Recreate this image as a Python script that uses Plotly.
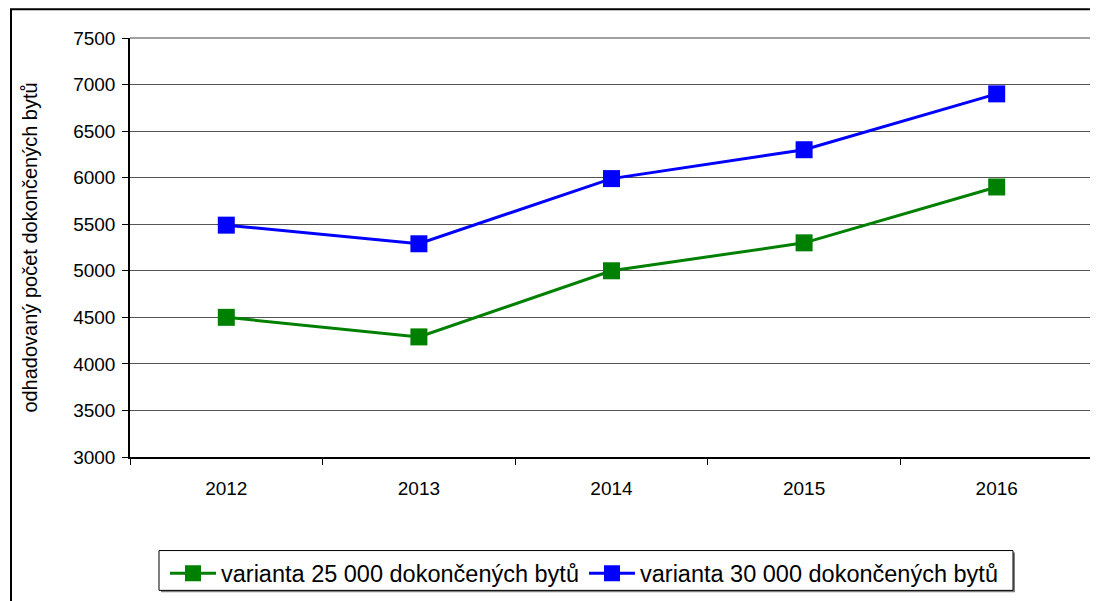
import plotly.graph_objects as go

years = ["2012", "2013", "2014", "2015", "2016"]
var25 = [4500, 4290, 5000, 5300, 5900]
var30 = [5490, 5290, 5990, 6300, 6900]
y_ticks = [3000, 3500, 4000, 4500, 5000, 5500, 6000, 6500, 7000, 7500]

name25 = "varianta 25 000 dokončených bytů"
name30 = "varianta 30 000 dokončených bytů"
y_title = "odhadovaný počet dokončených bytů"

FONT = "Liberation Sans, Arial, sans-serif"

fig = go.Figure()
fig.add_trace(go.Scatter(x=years, y=var25, name=name25, mode="lines+markers",
                         line=dict(color="#008000", width=3),
                         marker=dict(symbol="square", size=17, color="#008000")))
fig.add_trace(go.Scatter(x=years, y=var30, name=name30, mode="lines+markers",
                         line=dict(color="#0000FF", width=3),
                         marker=dict(symbol="square", size=17, color="#0000FF")))

# page offset of the figure (body margin)
OFF = 8
W, H = 1098 - OFF, 601 - OFF
PL, PR, PT, PB = 130, 1093, 38, 459  # plot area in page pixels
L = PL - OFF
T = PT - OFF
R = W - (PR - OFF)
B = H - (PB - OFF)
pw = PR - PL
ph = PB - PT

def px(x):
    return (x - PL) / pw

def py(y):
    return (PB - y) / ph

shapes = [
    # outer chart frame
    dict(type="rect", xref="paper", yref="paper", x0=px(11), x1=px(1120), y0=py(640), y1=py(9),
         line=dict(color="black", width=2), layer="below"),
    # plot area border top/right (gray)
    dict(type="line", xref="paper", yref="paper", x0=0, x1=1, y0=1, y1=1,
         line=dict(color="#808080", width=1.5)),
    dict(type="line", xref="paper", yref="paper", x0=1, x1=1, y0=0, y1=1,
         line=dict(color="#808080", width=1.5)),
    # legend shadow + box
    dict(type="rect", xref="paper", yref="paper", x0=px(161), x1=px(1015), y0=py(595), y1=py(555),
         line=dict(color="#808080", width=0), fillcolor="#808080", layer="below"),
    dict(type="rect", xref="paper", yref="paper", x0=px(159), x1=px(1013), y0=py(593), y1=py(553),
         line=dict(color="black", width=1), fillcolor="white", layer="below"),
]

fig.update_layout(
    width=W, height=H,
    margin=dict(l=L, r=R, t=T, b=B, pad=0),
    paper_bgcolor="white", plot_bgcolor="white",
    font=dict(family=FONT, size=19, color="black"),
    showlegend=True,
    legend=dict(orientation="h", x=px(584), xanchor="center", y=py(554), yanchor="top",
                font=dict(size=23.5), bgcolor="rgba(0,0,0,0)", borderwidth=0,
                itemwidth=46, tracegroupgap=0),
    shapes=shapes,
)
fig.update_xaxes(type="category", range=[-0.5, 4.5], tickson="boundaries",
                 ticks="outside", ticklen=6, tickcolor="black", tickwidth=1,
                 showline=True, linecolor="black", linewidth=1.5,
                 showgrid=False, zeroline=False, tickfont=dict(size=19),
                 ticklabelstandoff=13)
fig.update_yaxes(range=[3000, 7500], tickvals=y_ticks, ticks="outside", ticklen=6,
                 tickcolor="black", tickwidth=1, showline=True, linecolor="black", linewidth=1.5,
                 showgrid=True, gridcolor="#555555", gridwidth=1, zeroline=False,
                 tickfont=dict(size=19), ticklabelstandoff=3,
                 title=dict(text=y_title, font=dict(size=20), standoff=30))

fig.write_html("out.html")
